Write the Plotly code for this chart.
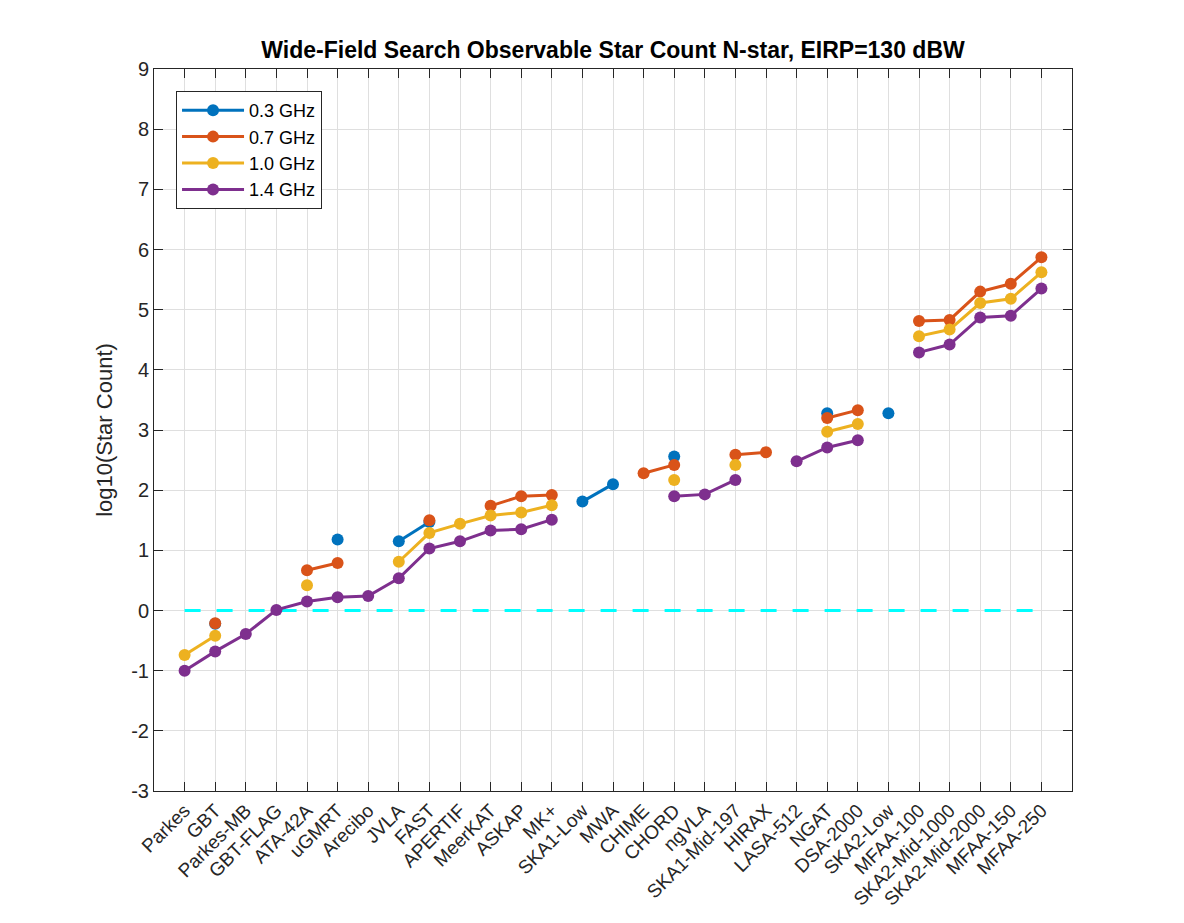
import plotly.graph_objects as go

categories = ["Parkes", "GBT", "Parkes-MB", "GBT-FLAG", "ATA-42A", "uGMRT", "Arecibo",
              "JVLA", "FAST", "APERTIF", "MeerKAT", "ASKAP", "MK+", "SKA1-Low", "MWA",
              "CHIME", "CHORD", "ngVLA", "SKA1-Mid-197", "HIRAX", "LASA-512", "NGAT",
              "DSA-2000", "SKA2-Low", "MFAA-100", "SKA2-Mid-1000", "SKA2-Mid-2000",
              "MFAA-150", "MFAA-250"]

N = None
ghz_03 = [N, -0.22, N, N, N, 1.18, N, 1.15, 1.47, N, N, N, N, 1.81, 2.10,
          N, 2.56, N, N, N, N, 3.28, N, 3.28, N, N, N, N, N]
ghz_07 = [N, -0.21, N, N, 0.67, 0.79, N, N, 1.50, N, 1.74, 1.90, 1.92, N, N,
          2.28, 2.42, N, 2.59, 2.63, N, 3.20, 3.33, N, 4.81, 4.83, 5.30, 5.43, 5.87]
ghz_10 = [-0.74, -0.42, N, N, 0.42, N, N, 0.81, 1.29, 1.44, 1.58, 1.63, 1.75, N, N,
          N, 2.17, N, 2.42, N, N, 2.97, 3.10, N, 4.56, 4.67, 5.11, 5.18, 5.62]
ghz_14 = [-1.00, -0.68, -0.39, 0.01, 0.15, 0.22, 0.24, 0.535, 1.03, 1.15, 1.33, 1.35, 1.51, N, N,
          N, 1.90, 1.93, 2.17, N, 2.48, 2.71, 2.83, N, 4.29, 4.42, 4.87, 4.90, 5.35]

series_names = ["0.3 GHz", "0.7 GHz", "1.0 GHz", "1.4 GHz"]
series_vals = [ghz_03, ghz_07, ghz_10, ghz_14]
colors = ["#0072BD", "#D95319", "#EDB120", "#7E2F8E"]

threshold_x = [categories[0], categories[-1]]
threshold_y = [0, 0]

y_ticks = list(range(-3, 10))

FONT = "Liberation Sans, Arial"

fig = go.Figure()

fig.add_trace(go.Scatter(
    x=threshold_x, y=threshold_y, mode="lines",
    line=dict(color="#00FFFF", width=3, dash="16px,16px"),
    showlegend=False, hoverinfo="skip"))

for name, vals, col in zip(series_names, series_vals, colors):
    fig.add_trace(go.Scatter(
        x=categories, y=vals, mode="lines+markers", name=name,
        line=dict(color=col, width=3),
        marker=dict(color=col, size=12, symbol="circle"),
        connectgaps=False))

axis_common = dict(
    showline=True, linecolor="#262626", linewidth=1, mirror="allticks",
    ticks="inside", ticklen=9, tickcolor="#262626",
    showgrid=True, gridcolor="#DFDFDF", gridwidth=1, zeroline=False,
    tickfont=dict(family=FONT, size=20, color="#262626"),
)

fig.update_xaxes(
    type="category", categoryorder="array", categoryarray=categories,
    range=[-1, len(categories)], tickangle=-45,
    **{**axis_common, "tickfont": dict(family=FONT, size=19, color="#262626")})
fig.update_yaxes(
    range=[-3, 9], tickvals=y_ticks, ticktext=[str(v) for v in y_ticks],
    title=dict(text="log10(Star Count)", standoff=12,
               font=dict(family=FONT, size=22, color="#262626")),
    **axis_common)

fig.update_layout(
    width=1184, height=923,
    margin=dict(l=146, r=120, t=61, b=140, autoexpand=False),
    paper_bgcolor="white", plot_bgcolor="white",
    title=dict(text="<b>Wide-Field Search Observable Star Count N-star, EIRP=130 dBW</b>",
               x=605/1184, xanchor="center", y=1 - 42/923, yanchor="middle",
               font=dict(family=FONT, size=23, color="black")),
    legend=dict(x=0.024, y=0.9695, xanchor="left", yanchor="top",
                bgcolor="white", bordercolor="#262626", borderwidth=1,
                font=dict(family=FONT, size=18, color="black"),
                tracegroupgap=0, itemwidth=62),
    showlegend=True,
)

fig.write_html("out.html")
